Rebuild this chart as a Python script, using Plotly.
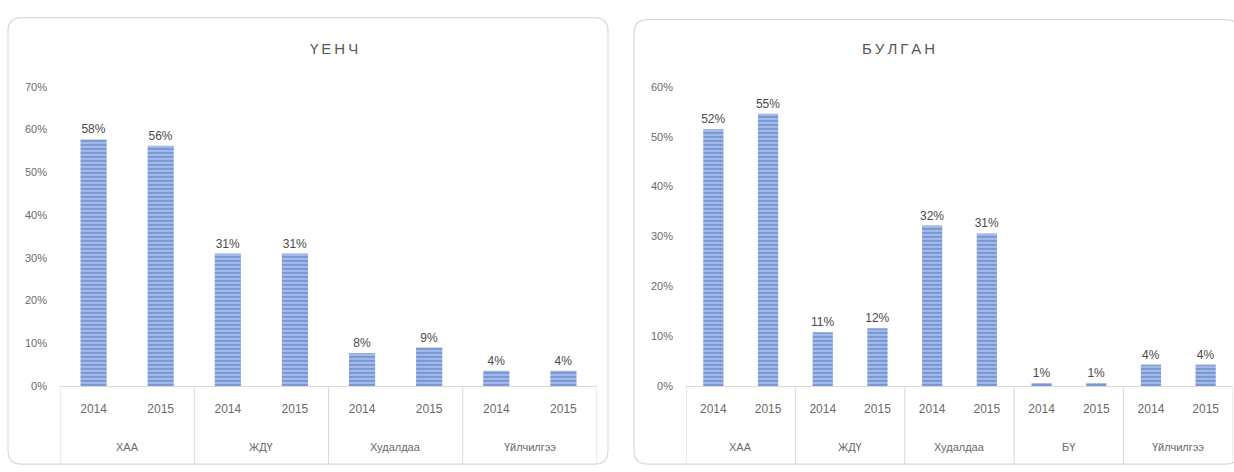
import plotly.graph_objects as go

# ---------------- data ----------------
left_title = "ҮЕНЧ"
left_groups = ["ХАА", "ЖДҮ", "Худалдаа", "Үйлчилгээ"]
left_years = ["2014", "2015"]
left_values = [0.577, 0.562, 0.31, 0.31, 0.077, 0.09, 0.036, 0.036]
left_ymax = 0.7

right_title = "БУЛГАН"
right_groups = ["ХАА", "ЖДҮ", "Худалдаа", "БҮ", "Үйлчилгээ"]
right_years = ["2014", "2015"]
right_values = [0.515, 0.546, 0.108, 0.116, 0.322, 0.306, 0.006, 0.006, 0.043, 0.043]
right_ymax = 0.6

# ---------------- layout helpers ----------------
W, H = 1234, 472
FONT = "Liberation Sans, Arial, sans-serif"
GRAY = "#6a6a6a"
BORDER = "#d9d9d9"

def px_x(p):
    return p / W

def px_y(p):
    return 1 - p / H

fig = go.Figure()
annotations = []
shapes = []

def rounded_box(x0, y0, x1, y1, r):
    rx, ry = r / W, r / H
    X0, X1 = px_x(x0), px_x(x1)
    Y0, Y1 = px_y(y0), px_y(y1)  # Y0 top, Y1 bottom
    path = (f"M {X0+rx},{Y0} L {X1-rx},{Y0} Q {X1},{Y0} {X1},{Y0-ry} "
            f"L {X1},{Y1+ry} Q {X1},{Y1} {X1-rx},{Y1} "
            f"L {X0+rx},{Y1} Q {X0},{Y1} {X0},{Y1+ry} "
            f"L {X0},{Y0-ry} Q {X0},{Y0} {X0+rx},{Y0} Z")
    return dict(type="path", path=path, xref="paper", yref="paper",
                line=dict(color=BORDER, width=1.2), fillcolor="rgba(0,0,0,0)",
                layer="below")

def add_panel(idx, title, groups, years, values, ymax, xdom_px, box, width):
    xa = "x" if idx == 1 else f"x{idx}"
    ya = "y" if idx == 1 else f"y{idx}"
    cats = [f"{g}|{y}" for g in groups for y in years]
    fig.add_trace(go.Bar(
        x=cats, y=values, xaxis=xa, yaxis=ya, width=width,
        marker=dict(color="#4d72c0",
                    line=dict(width=0),
                    pattern=dict(shape="-", fgcolor="#4a6fbf", bgcolor="#a9bfea",
                                 size=4, solidity=0.55)),
        texttemplate="%{y:.0%}", textposition="outside", constraintext="none",
        textfont=dict(family=FONT, size=12, color="#4a4a4a"),
        cliponaxis=False, showlegend=False, hoverinfo="skip"))
    axis_key = "xaxis" if idx == 1 else f"xaxis{idx}"
    yaxis_key = "yaxis" if idx == 1 else f"yaxis{idx}"
    fig.update_layout(**{
        axis_key: dict(domain=[px_x(xdom_px[0]), px_x(xdom_px[1])],
                       anchor=ya, type="category", categoryorder="array",
                       categoryarray=cats, range=[-0.5, len(cats) - 0.5],
                       tickvals=cats, ticktext=[c.split("|")[1] for c in cats],
                       tickfont=dict(family=FONT, size=12, color=GRAY),
                       ticks="", ticklabelstandoff=12,
                       showline=True, linecolor=BORDER, linewidth=1,
                       showgrid=False, zeroline=False, fixedrange=True),
        yaxis_key: dict(domain=[px_y(390), px_y(83)], anchor=xa,
                        range=[0, ymax], dtick=0.1, tickformat=".0%",
                        tickfont=dict(family=FONT, size=11, color=GRAY),
                        showgrid=False, zeroline=False, showline=False,
                        ticklabelstandoff=12, fixedrange=True),
    })
    # group dividers and names
    n = len(years)
    for gi, g in enumerate(groups):
        annotations.append(dict(
            x=(gi * n + (n - 1) / 2), y=px_y(453), xref=xa, yref="paper",
            yanchor="middle", text=g, showarrow=False,
            font=dict(family=FONT, size=11, color=GRAY)))
    for gi in range(len(groups) + 1):
        shapes.append(dict(type="line", xref=xa, yref="paper",
                           x0=gi * n - 0.5, x1=gi * n - 0.5,
                           y0=px_y(390), y1=px_y(471),
                           line=dict(color=BORDER, width=1)))
    # title
    annotations.append(dict(
        x=px_x((box[0] + box[2]) / 2), y=px_y(44), xref="paper", yref="paper",
        yanchor="middle", text="\u2009".join(title), showarrow=False,
        font=dict(family=FONT, size=15, color="#595959")))
    shapes.append(rounded_box(*box, 14))

add_panel(1, left_title, left_groups, left_years, left_values, left_ymax,
          (60, 597), (8, 12, 608, 470), 0.39)
add_panel(2, right_title, right_groups, right_years, right_values, right_ymax,
          (686, 1233), (634, 14, 1240, 470), 0.37)

fig.update_layout(width=W, height=H, margin=dict(l=0, r=0, t=0, b=0),
                  paper_bgcolor="white", plot_bgcolor="white",
                  annotations=annotations, shapes=shapes, showlegend=False)

fig.write_html("out.html", post_script="document.body.style.margin='0';",
               config={"displayModeBar": False})
